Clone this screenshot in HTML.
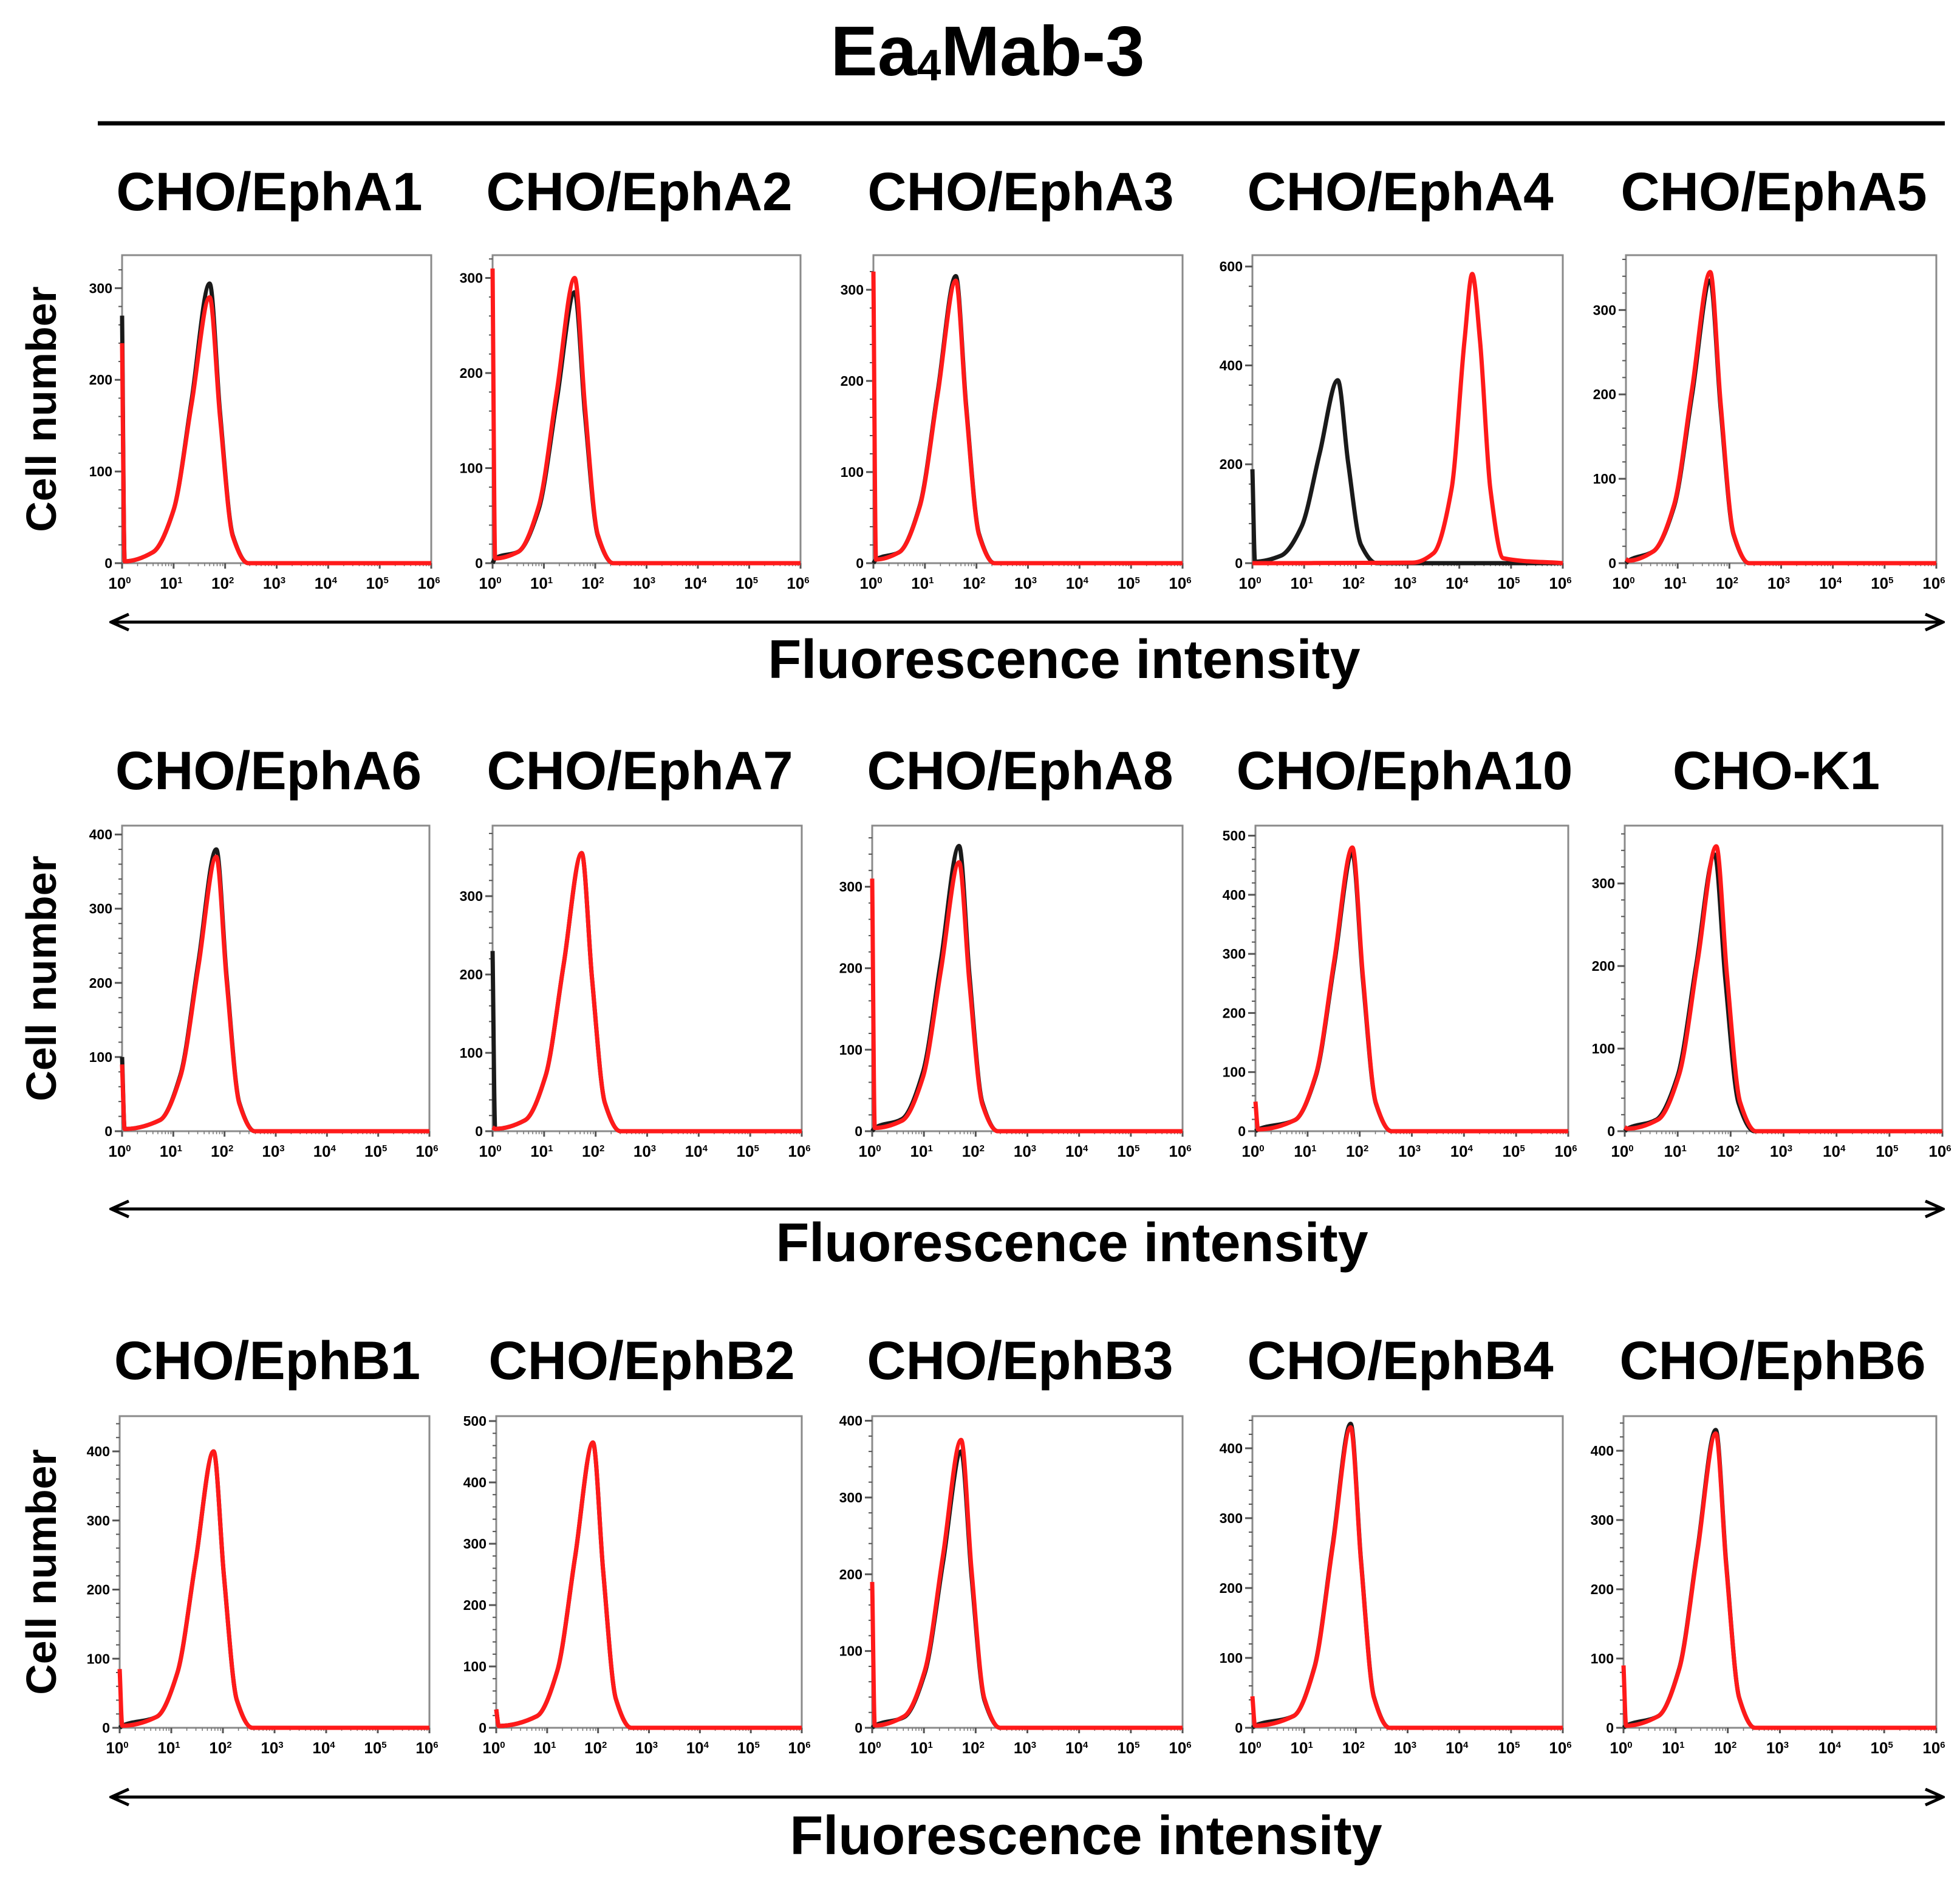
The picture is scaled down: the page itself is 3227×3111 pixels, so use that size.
<!DOCTYPE html>
<html><head><meta charset="utf-8"><style>
html,body{margin:0;padding:0;background:#fff;}
svg{display:block;font-family:"Liberation Sans",Arial,sans-serif;}
</style></head><body>
<svg id="fig" width="3227" height="3111" viewBox="0 0 3227 3111" xmlns="http://www.w3.org/2000/svg">
<defs><marker id="ah" markerWidth="34" markerHeight="30" refX="30" refY="15" orient="auto-start-reverse" markerUnits="userSpaceOnUse" viewBox="0 0 34 30"><path d="M2,2 L31,15 L2,28" fill="none" stroke="#000" stroke-width="5"/></marker></defs>
<text x="1626" y="124" text-anchor="middle" font-weight="bold" font-size="116">Ea<tspan font-size="72" dy="8">4</tspan><tspan dy="-8">Mab-3</tspan></text>
<line x1="161" y1="203" x2="3202" y2="203" stroke="#000" stroke-width="7"/>
<g id="panels"></g>
</svg>
<script>
const titles = ["CHO/EphA1","CHO/EphA2","CHO/EphA3","CHO/EphA4","CHO/EphA5","CHO/EphA6","CHO/EphA7","CHO/EphA8","CHO/EphA10","CHO-K1","CHO/EphB1","CHO/EphB2","CHO/EphB3","CHO/EphB4","CHO/EphB6"];
const yMax = [336,324,338,623,365,412,390,375,517,370,451,508,406,446,450];
const yTickStep = [100,100,100,200,100,100,100,100,100,100,100,100,100,100,100];
const xTickExps = [0,1,2,3,4,5,6];
const redX = [
 [0,0.05,0.6,1.0,1.35,1.7,1.9,2.15,2.45,6],
 [0,0.05,0.5,0.9,1.25,1.6,1.8,2.05,2.35,6],
 [0,0.05,0.5,0.9,1.25,1.6,1.8,2.05,2.35,6],
 [0,3.1,3.5,3.85,4.1,4.25,4.4,4.6,4.85,6],
 [0,0.05,0.53,0.93,1.28,1.63,1.83,2.08,2.38,6],
 [0,0.05,0.74,1.14,1.49,1.84,2.04,2.29,2.59,6],
 [0,0.05,0.63,1.03,1.38,1.73,1.93,2.18,2.48,6],
 [0,0.05,0.58,0.98,1.33,1.68,1.88,2.13,2.43,6],
 [0,0.05,0.76,1.16,1.51,1.86,2.06,2.31,2.61,6],
 [0,0.05,0.63,1.03,1.38,1.73,1.93,2.18,2.48,6],
 [0,0.05,0.72,1.12,1.47,1.82,2.02,2.27,2.57,6],
 [0,0.05,0.8,1.2,1.55,1.9,2.1,2.35,2.65,6],
 [0,0.05,0.62,1.02,1.37,1.72,1.92,2.17,2.47,6],
 [0,0.05,0.8,1.2,1.55,1.9,2.1,2.35,2.65,6],
 [0,0.05,0.67,1.07,1.42,1.77,1.97,2.22,2.52,6]];
const redY = [
 [240,2,12,58,174,290,160,29,0,0],
 [310,5,12,60,180,300,165,30,0,0],
 [320,4,12,62,186,310,170,31,0,0],
 [0,1,20,150,450,585,450,150,10,0],
 [5,3,14,69,207,345,190,35,0,0],
 [90,3,15,74,222,370,204,37,0,0],
 [5,3,14,71,213,355,195,36,0,0],
 [310,4,13,66,198,330,182,33,0,0],
 [50,3,19,96,288,480,264,48,0,0],
 [5,3,14,69,207,345,190,35,0,0],
 [85,3,16,80,240,400,220,40,0,0],
 [30,3,19,93,279,465,256,47,0,0],
 [190,3,15,75,225,375,206,38,0,0],
 [45,3,17,86,258,430,237,43,0,0],
 [90,3,17,85,255,425,234,43,0,0]];
const blackX = [
 [0,0.05,0.6,1.0,1.35,1.7,1.9,2.15,2.45,6],
 [0,0.05,0.5,0.9,1.25,1.6,1.8,2.05,2.35,6],
 [0,0.05,0.5,0.9,1.25,1.6,1.8,2.05,2.35,6],
 [0,0.05,0.55,0.95,1.3,1.65,1.85,2.1,2.4,6],
 [0,0.05,0.53,0.93,1.28,1.63,1.83,2.08,2.38,6],
 [0,0.05,0.74,1.14,1.49,1.84,2.04,2.29,2.59,6],
 [0,0.05,0.63,1.03,1.38,1.73,1.93,2.18,2.48,6],
 [0,0.05,0.58,0.98,1.33,1.68,1.88,2.13,2.43,6],
 [0,0.05,0.76,1.16,1.51,1.86,2.06,2.31,2.61,6],
 [0,0.05,0.6,1.0,1.35,1.7,1.9,2.15,2.45,6],
 [0,0.05,0.72,1.12,1.47,1.82,2.02,2.27,2.57,6],
 [0,0.05,0.8,1.2,1.55,1.9,2.1,2.35,2.65,6],
 [0,0.05,0.62,1.02,1.37,1.72,1.92,2.17,2.47,6],
 [0,0.05,0.8,1.2,1.55,1.9,2.1,2.35,2.65,6],
 [0,0.05,0.67,1.07,1.42,1.77,1.97,2.22,2.52,6]];
const blackY = [
 [270,2,12,58,178,305,165,30,0,0],
 [0,5,12,57,171,285,157,29,0,0],
 [0,4,12,63,189,315,173,32,0,0],
 [190,3,15,74,222,370,204,37,0,0],
 [0,3,14,67,200,335,184,34,0,0],
 [100,3,15,76,228,380,209,38,0,0],
 [230,3,14,71,213,355,195,36,0,0],
 [0,4,15,72,210,350,192,35,0,0],
 [0,3,19,94,282,470,258,47,0,0],
 [0,3,14,67,201,335,184,34,0,0],
 [0,3,16,80,240,400,220,40,0,0],
 [30,3,19,93,279,465,256,47,0,0],
 [0,3,14,72,216,360,198,36,0,0],
 [0,3,17,87,261,435,239,44,0,0],
 [0,3,17,86,258,430,237,43,0,0]];

// layout (pixels)
const rowTop=[420,1359,2331], rowBot=[927,1862,2844];
const colL=[[201,811,1438,2062,2677],[201,811,1436,2067,2675],[197,817,1436,2062,2673]];
const colR=[[710,1318,1947,2573,3188],[707,1320,1947,2582,3198],[707,1320,1947,2573,3188]];
const titleY=[346,1299,2270], arrowY=[1024,1990,2958], fluorY=[1116,2076,3052], fluorX=[1752,1765,1788];
const NS="http://www.w3.org/2000/svg";
const root=document.getElementById('panels');
function mk(tag,attrs,parent){const e=document.createElementNS(NS,tag);for(const k in attrs)e.setAttribute(k,attrs[k]);(parent||root).appendChild(e);return e;}
// monotone cubic (Fritsch-Carlson) path
function smooth(pts){
  const n=pts.length, dx=[], m=[], t=[];
  for(let i=0;i<n-1;i++){dx[i]=pts[i+1][0]-pts[i][0]; m[i]=dx[i]?(pts[i+1][1]-pts[i][1])/dx[i]:0;}
  t[0]=m[0]; t[n-1]=m[n-2];
  for(let i=1;i<n-1;i++){ if(m[i-1]*m[i]<=0) t[i]=0; else t[i]=3*(dx[i-1]+dx[i])/((2*dx[i]+dx[i-1])/m[i-1]+(dx[i]+2*dx[i-1])/m[i]); }
  let d=`M${pts[0][0]},${pts[0][1]}`;
  for(let i=0;i<n-1;i++){const h=dx[i]/3;
    d+=` C${pts[i][0]+h},${pts[i][1]+t[i]*h} ${pts[i+1][0]-h},${pts[i+1][1]-t[i+1]*h} ${pts[i+1][0]},${pts[i+1][1]}`;}
  return d;
}
for(let r=0;r<3;r++){
  const cl=mk('text',{x:0,y:0,'font-size':70,'font-weight':'bold','text-anchor':'middle',transform:`translate(92,${(rowTop[r]+rowBot[r])/2}) rotate(-90)`});
  
  
  cl.textContent='Cell number';
  const ar=mk('line',{x1:184,y1:arrowY[r],x2:3198,y2:arrowY[r],stroke:'#000','stroke-width':5,'marker-start':'url(#ah)','marker-end':'url(#ah)'});
  
  
  const ft=mk('text',{x:fluorX[r],y:fluorY[r],'font-size':90,'font-weight':'bold','text-anchor':'middle'});
  
  
  ft.textContent='Fluorescence intensity';
  for(let c=0;c<5;c++){
    const i=r*5+c, L=colL[r][c], R=colR[r][c], T=rowTop[r], B=rowBot[r];
    const xs=v=>L+(R-L)*v/6, ys=v=>B-(B-T)*v/yMax[i];
    const g=mk('g',{});
    
    
    const tt=mk('text',{x:(L+R)/2-12,y:titleY[r],'font-size':89,'font-weight':'bold','text-anchor':'middle'},g);
    
    
    tt.textContent=titles[i];
    const box=mk('rect',{x:L,y:T,width:R-L,height:B-T,fill:'#fff',stroke:'#8a8a8a','stroke-width':3},g);
    
    
    for(let v=0;v<=yMax[i];v+=yTickStep[i]/5){
      const major=Math.abs(v/yTickStep[i]-Math.round(v/yTickStep[i]))<1e-6;
      mk('line',{x1:L-(major?12:6),x2:L,y1:ys(v),y2:ys(v),stroke:'#555','stroke-width':major?3:2},g);
      if(major){const tl=mk('text',{x:L-16,y:ys(v)+8,'font-size':23,'font-weight':'bold','text-anchor':'end'},g);
        
        
        tl.textContent=Math.round(v);}
    }
    xTickExps.forEach(e=>{
      mk('line',{x1:xs(e),x2:xs(e),y1:B,y2:B+9,stroke:'#555','stroke-width':3},g);
      if(e<6)for(let m=2;m<10;m++){const xx=xs(e+Math.log10(m));mk('line',{x1:xx,x2:xx,y1:B,y2:B+5,stroke:'#777','stroke-width':1.5},g);}
      const xl=mk('text',{x:xs(e)-4,y:B+42,'font-size':26,'font-weight':'bold','text-anchor':'middle'},g);
      
      
      xl.innerHTML='10<tspan font-size="15" dy="-9">'+e+'</tspan>';
    });
    const bp=mk('path',{d:smooth(blackX[i].map((x,k)=>[xs(x),Math.min(B,ys(blackY[i][k]))])),fill:'none',stroke:'#1a1a1a','stroke-width':7,'stroke-linejoin':'round'},g);
    
    
    const rp=mk('path',{d:smooth(redX[i].map((x,k)=>[xs(x),Math.min(B,ys(redY[i][k]))])),fill:'none',stroke:'#ff1a1a','stroke-width':7,'stroke-linejoin':'round'},g);
    
    
  }
}
</script>
</body></html>
